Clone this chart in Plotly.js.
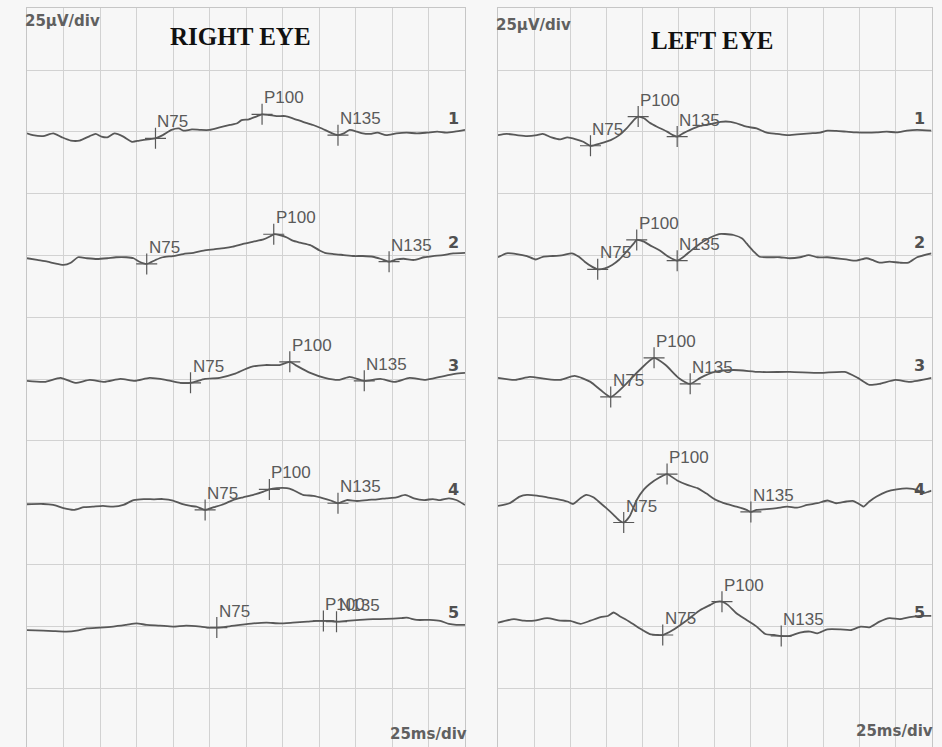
<!DOCTYPE html>
<html>
<head>
<meta charset="utf-8">
<script src="https://cdn.plot.ly/plotly-3.0.1.min.js"></script>
<style>
  html, body { margin: 0; padding: 0; background: #f7f7f7; }
  #vep { width: 942px; height: 747px; }
</style>
</head>
<body>
<div id="vep"></div>
<script>
// Pattern-reversal VEP, five runs per eye.
// Time in ms from sweep start, amplitude in µV relative to each run's baseline.

// ---- Right eye ----
const R1_T  = [0,4,11,18,24,30,36,43,47,51,55,60,66,72,77,83,88,93,99,104,107,113,119,125,132,139,144,147,152,157,161,166,171,177,182,189,196,202,208,213,217,221,226,230,235,240,246,253,260,267,274,281,287,293,300];
const R1_UV = [-0.6,-1.3,-1.7,-0.6,-2.2,-3.5,-3.5,-1.7,-0.8,-1.9,-2.2,-0.6,-1.9,-4.0,-3.5,-3.0,-2.6,-1.3,0.8,1.4,0.5,1.0,0.8,0.8,1.8,2.8,3.5,4.8,5.1,6.2,7.1,6.8,6.4,6.4,5.5,4.1,2.8,1.4,-0.3,-1.3,-0.6,0.8,0.1,-0.6,-0.8,-0.3,-1.3,-0.6,-0.3,-0.6,-0.3,0.1,-0.3,0.1,0.8];
const R1_PEAK_T  = [88, 161, 213];
const R1_PEAK_UV = [-2.6, 7.1, -1.3];

const R2_T  = [0,7,14,19,25,30,35,41,48,55,61,68,73,77,82,88,93,100,107,114,121,128,135,141,148,155,162,166,169,173,178,182,187,194,200,204,210,217,224,230,237,242,248,253,258,265,272,278,285,292,300];
const R2_UV = [-1.1,-1.8,-2.5,-3.2,-3.8,-2.9,-0.7,-1.1,-1.4,-1.1,-0.7,-0.7,-1.1,-2.5,-3.4,-1.8,-0.7,-0.2,0.6,1.1,2.0,2.5,3.0,3.6,4.7,5.6,6.5,7.6,8.6,8.3,7.3,6.0,5.2,4.2,2.2,1.1,0.6,0.2,-0.2,-0.2,-0.5,-1.3,-2.5,-1.6,-1.3,-1.8,-0.7,-0.2,0.2,0.9,1.1];
const R2_PEAK_T  = [82, 169, 248];
const R2_PEAK_UV = [-3.4, 8.6, -2.5];

const R3_T  = [0,12,23,33,43,53,64,74,84,95,105,112,122,132,142,153,163,173,180,185,194,204,214,221,231,242,252,262,273,283,293,300];
const R3_UV = [-0.7,-1.1,0.5,-1.5,-0.3,-1.1,0.1,-0.7,0.5,-0.3,-1.5,-1.5,0.1,0.5,2.1,4.9,5.7,5.7,7.0,5.3,2.5,0.5,-0.3,0.9,-0.7,0.1,-1.1,0.5,-0.3,0.9,2.1,2.5];
const R3_PEAK_T  = [112, 180, 231];
const R3_PEAK_UV = [-1.5, 7.0, -0.7];

const R4_T  = [0,11,18,25,32,39,45,52,59,66,73,80,87,93,100,106,112,116,122,128,135,141,148,155,162,166,171,178,182,189,196,203,208,213,219,226,233,240,246,253,259,265,272,278,283,289,294,300];
const R4_UV = [-0.6,-0.5,-0.9,-2.2,-2.9,-1.8,-1.6,-1.3,-1.6,-0.9,1.1,1.5,1.4,1.5,0.9,-0.5,-1.3,-1.6,-2.9,-1.8,-0.5,1.1,2.2,3.2,4.5,5.4,5.9,5.9,5.2,3.2,2.8,1.8,0.9,-0.2,1.1,0.7,1.1,1.4,1.8,2.2,3.2,1.8,1.1,1.5,1.1,1.8,1.1,-0.9];
const R4_PEAK_T  = [122, 166, 213];
const R4_PEAK_UV = [-2.9, 5.4, -0.2];

const R5_T  = [0,11,18,27,34,41,50,59,68,75,82,91,100,109,119,125,130,137,146,155,164,173,182,192,198,203,208,212,219,228,237,246,256,260,267,276,283,289,294,300];
const R5_UV = [-1.5,-1.7,-1.9,-2.1,-1.7,-0.8,-0.5,-0.1,0.6,1.2,0.6,0.3,-0.1,0.3,-0.1,-0.5,-0.5,-0.1,0.6,1.2,1.5,1.2,1.5,1.9,2.2,2.2,2.2,1.9,2.2,2.6,2.9,3.0,3.3,3.5,2.6,2.6,2.2,1.0,0.6,0.6];
const R5_PEAK_T  = [130, 203, 212];
const R5_PEAK_UV = [-0.5, 2.2, 1.9];

// ---- Left eye ----
const L1_T  = [0,6,13,20,27,31,37,43,48,54,59,64,71,78,84,89,94,97,101,105,110,117,121,124,128,133,140,147,154,161,165,172,179,186,193,200,207,216,223,228,234,241,248,255,262,269,276,283,290,300];
const L1_UV = [-1.3,-0.8,-1.3,-1.7,-1.3,-0.8,-2.2,-3.0,-2.2,-3.0,-4.0,-5.6,-4.6,-3.3,-1.3,1.4,4.8,6.2,5.5,3.7,2.1,0.1,-1.3,-1.9,-0.6,0.8,2.4,3.2,4.1,4.1,3.5,2.1,1.4,-0.3,-0.8,-1.3,-1.0,-0.6,-0.3,0.5,0.4,0.1,-0.2,-0.3,-0.2,0.1,-0.2,0.5,0.8,0.5];
const L1_PEAK_T  = [64, 97, 124];
const L1_PEAK_UV = [-5.6, 6.2, -1.9];

const L2_T  = [0,6,13,20,26,31,38,45,51,56,60,65,69,74,79,84,89,94,96,101,105,112,118,124,128,134,140,147,153,157,163,169,172,177,181,188,195,202,209,215,221,228,234,241,248,255,259,264,271,278,284,290,300];
const L2_UV = [-0.7,0.9,0.6,-0.2,-1.6,-0.5,-0.2,0.2,0.9,-0.5,-2.5,-4.5,-5.6,-5.2,-3.8,-1.6,1.6,4.9,6.3,5.6,4.2,2.0,-0.5,-2.1,-0.7,2.2,4.9,7.3,8.7,8.7,8.3,6.9,4.9,1.6,-0.5,-0.7,-0.7,-1.1,-0.7,0.2,-0.7,-0.7,-1.1,-1.6,-2.1,-1.1,-1.8,-2.9,-2.5,-2.9,-2.9,-0.7,0.9];
const L2_PEAK_T  = [69, 96, 124];
const L2_PEAK_UV = [-5.6, 6.3, -2.1];

const L3_T  = [0,12,22,33,43,53,64,71,78,88,98,108,116,125,133,140,150,163,181,202,223,240,249,257,264,275,285,300];
const L3_UV = [0.5,-0.3,0.9,0.1,-0.3,1.3,-1.1,-4.4,-7.2,-2.3,3.7,8.6,5.7,0.5,-1.9,0.5,2.9,3.7,2.9,2.9,2.5,2.9,0.5,-2.3,-1.9,-0.3,-1.1,0.5];
const L3_PEAK_T  = [78, 108, 133];
const L3_PEAK_UV = [-7.2, 8.6, -1.9];

const L4_T  = [0,8,15,20,27,34,41,48,52,57,61,66,71,75,80,84,87,91,96,101,105,112,117,124,131,138,144,151,158,165,172,175,179,186,193,200,207,214,221,228,234,241,246,251,253,257,262,269,276,283,290,294,298,300];
const L4_UV = [-1.3,-0.2,2.5,3.2,2.9,2.2,1.5,0.5,-0.5,1.8,3.2,2.2,-0.2,-2.2,-4.9,-7.2,-8.0,-5.6,1.1,5.4,7.6,10.3,11.6,9.0,7.2,5.9,3.8,1.1,-0.5,-1.6,-2.9,-3.7,-2.9,-2.6,-2.2,-1.6,-2.0,-0.9,-0.2,0.9,-0.2,0.5,0.7,-0.9,-1.6,0.5,2.5,4.5,5.4,5.8,5.2,3.8,4.5,4.9];
const L4_PEAK_T  = [87, 117, 175];
const L4_PEAK_UV = [-8.0, 11.6, -3.7];

const L5_T  = [0,11,18,25,34,43,50,57,64,71,76,80,84,91,98,105,111,114,121,131,140,147,151,155,159,165,172,179,185,191,196,202,209,216,221,228,237,244,251,257,264,271,278,285,292,300];
const L5_UV = [1.5,2.9,2.3,2.3,3.3,2.3,2.2,1.0,2.3,3.7,4.2,5.6,4.2,1.9,-0.8,-3.1,-3.5,-3.5,-1.5,2.6,6.6,8.7,9.9,10.0,8.7,5.3,2.6,-0.1,-3.1,-3.5,-3.9,-3.9,-2.5,-2.1,-2.8,-1.2,-1.2,-1.5,-0.1,-0.4,1.9,3.3,2.9,3.7,4.2,4.2];
const L5_PEAK_T  = [114, 155, 196];
const L5_PEAK_UV = [-3.5, 10.0, -3.9];

const WAVE_NAMES = ['N75', 'P100', 'N135'];
const RUN_LABELS = ['1', '2', '3', '4', '5'];
const PANEL_TITLES = ['RIGHT EYE', 'LEFT EYE'];
const GAIN_LABEL = '25µV/div';
const SWEEP_LABEL = '25ms/div';

const rightRuns = [
  [R1_T, R1_UV, R1_PEAK_T, R1_PEAK_UV],
  [R2_T, R2_UV, R2_PEAK_T, R2_PEAK_UV],
  [R3_T, R3_UV, R3_PEAK_T, R3_PEAK_UV],
  [R4_T, R4_UV, R4_PEAK_T, R4_PEAK_UV],
  [R5_T, R5_UV, R5_PEAK_T, R5_PEAK_UV]
];
const leftRuns = [
  [L1_T, L1_UV, L1_PEAK_T, L1_PEAK_UV],
  [L2_T, L2_UV, L2_PEAK_T, L2_PEAK_UV],
  [L3_T, L3_UV, L3_PEAK_T, L3_PEAK_UV],
  [L4_T, L4_UV, L4_PEAK_T, L4_PEAK_UV],
  [L5_T, L5_UV, L5_PEAK_T, L5_PEAK_UV]
];

// 12 x 12 divisions, 25 µV and 25 ms per division
const DIV = 25, NDIV = 12;
// run i rests on the grid line 2(i+1) divisions below the top
const baseline = i => (NDIV - 2 * (i + 1)) * DIV;

const INK = '#585858';
const data = [];
const annotations = [];

function addPanel(runs, xa, ya) {
  runs.forEach(([t, uv, pt, puv], i) => {
    const b = baseline(i);
    data.push({
      type: 'scatter', mode: 'lines', xaxis: xa, yaxis: ya,
      x: t, y: uv.map(v => v + b),
      line: { color: INK, width: 1.8, shape: 'spline', smoothing: 0.6 },
      hoverinfo: 'skip'
    });
    data.push({
      type: 'scatter', mode: 'markers', xaxis: xa, yaxis: ya,
      x: pt, y: puv.map(v => v + b),
      marker: { symbol: 'cross-thin', size: 15, color: INK, line: { width: 1.2, color: INK } },
      hoverinfo: 'skip'
    });
    pt.forEach((lat, j) => {
      annotations.push({
        xref: xa, yref: ya, x: lat, y: puv[j] + b,
        text: WAVE_NAMES[j], showarrow: false,
        xanchor: 'left', yanchor: 'bottom', xshift: 0, yshift: 5,
        font: { family: 'Liberation Sans, Arial, sans-serif', size: 17, color: '#5a5a5a' }
      });
    });
    annotations.push({
      xref: xa, yref: ya, x: 297, y: b,
      text: RUN_LABELS[i], showarrow: false,
      xanchor: 'right', yanchor: 'bottom', yshift: 2,
      font: { family: 'DejaVu Sans, sans-serif', size: 16, color: '#505050', weight: 'bold' }
    });
  });
}

addPanel(rightRuns, 'x', 'y');
addPanel(leftRuns, 'x2', 'y2');

const titleFont = { family: 'Liberation Serif, Times New Roman, serif', size: 25, color: '#111111', weight: 'bold' };
const unitFont = { family: 'DejaVu Sans, sans-serif', size: 15, color: '#606060', weight: 'bold' };

annotations.push(
  { xref: 'paper', yref: 'paper', x: 240 / 942, y: 1 - 37 / 747, text: PANEL_TITLES[0], showarrow: false, xanchor: 'center', yanchor: 'middle', font: titleFont },
  { xref: 'paper', yref: 'paper', x: 712 / 942, y: 1 - 40 / 747, text: PANEL_TITLES[1], showarrow: false, xanchor: 'center', yanchor: 'middle', font: titleFont },
  { xref: 'paper', yref: 'paper', x: 23 / 942, y: 1 - 21 / 747, text: GAIN_LABEL, showarrow: false, xanchor: 'left', yanchor: 'middle', font: unitFont },
  { xref: 'paper', yref: 'paper', x: 494 / 942, y: 1 - 25 / 747, text: GAIN_LABEL, showarrow: false, xanchor: 'left', yanchor: 'middle', font: unitFont },
  { xref: 'paper', yref: 'paper', x: 469 / 942, y: 1 - 734 / 747, text: SWEEP_LABEL, showarrow: false, xanchor: 'right', yanchor: 'middle', font: unitFont },
  { xref: 'paper', yref: 'paper', x: 935 / 942, y: 1 - 731 / 747, text: SWEEP_LABEL, showarrow: false, xanchor: 'right', yanchor: 'middle', font: unitFont }
);

const gridAxis = {
  dtick: DIV, tick0: 0, showgrid: true, gridcolor: '#d2d2d2', gridwidth: 1,
  zeroline: false, showticklabels: false, ticks: '',
  showline: true, mirror: true, linecolor: '#c6c6c6', linewidth: 1, fixedrange: true
};

const layout = {
  width: 942, height: 747,
  margin: { l: 0, r: 0, t: 0, b: 0 },
  paper_bgcolor: '#f7f7f7', plot_bgcolor: '#f7f7f7',
  showlegend: false,
  xaxis:  Object.assign({}, gridAxis, { domain: [27 / 942, 465 / 942], range: [0, NDIV * DIV], anchor: 'y' }),
  yaxis:  Object.assign({}, gridAxis, { domain: [0, 1 - 8.3 / 747], range: [1.2, NDIV * DIV], anchor: 'x' }),
  xaxis2: Object.assign({}, gridAxis, { domain: [498 / 942, 931.5 / 942], range: [0, NDIV * DIV], anchor: 'y2' }),
  yaxis2: Object.assign({}, gridAxis, { domain: [0, 1 - 8.3 / 747], range: [1.2, NDIV * DIV], anchor: 'x2' }),
  annotations: annotations
};

Plotly.newPlot('vep', data, layout, { staticPlot: true, displayModeBar: false });
</script>
</body>
</html>
